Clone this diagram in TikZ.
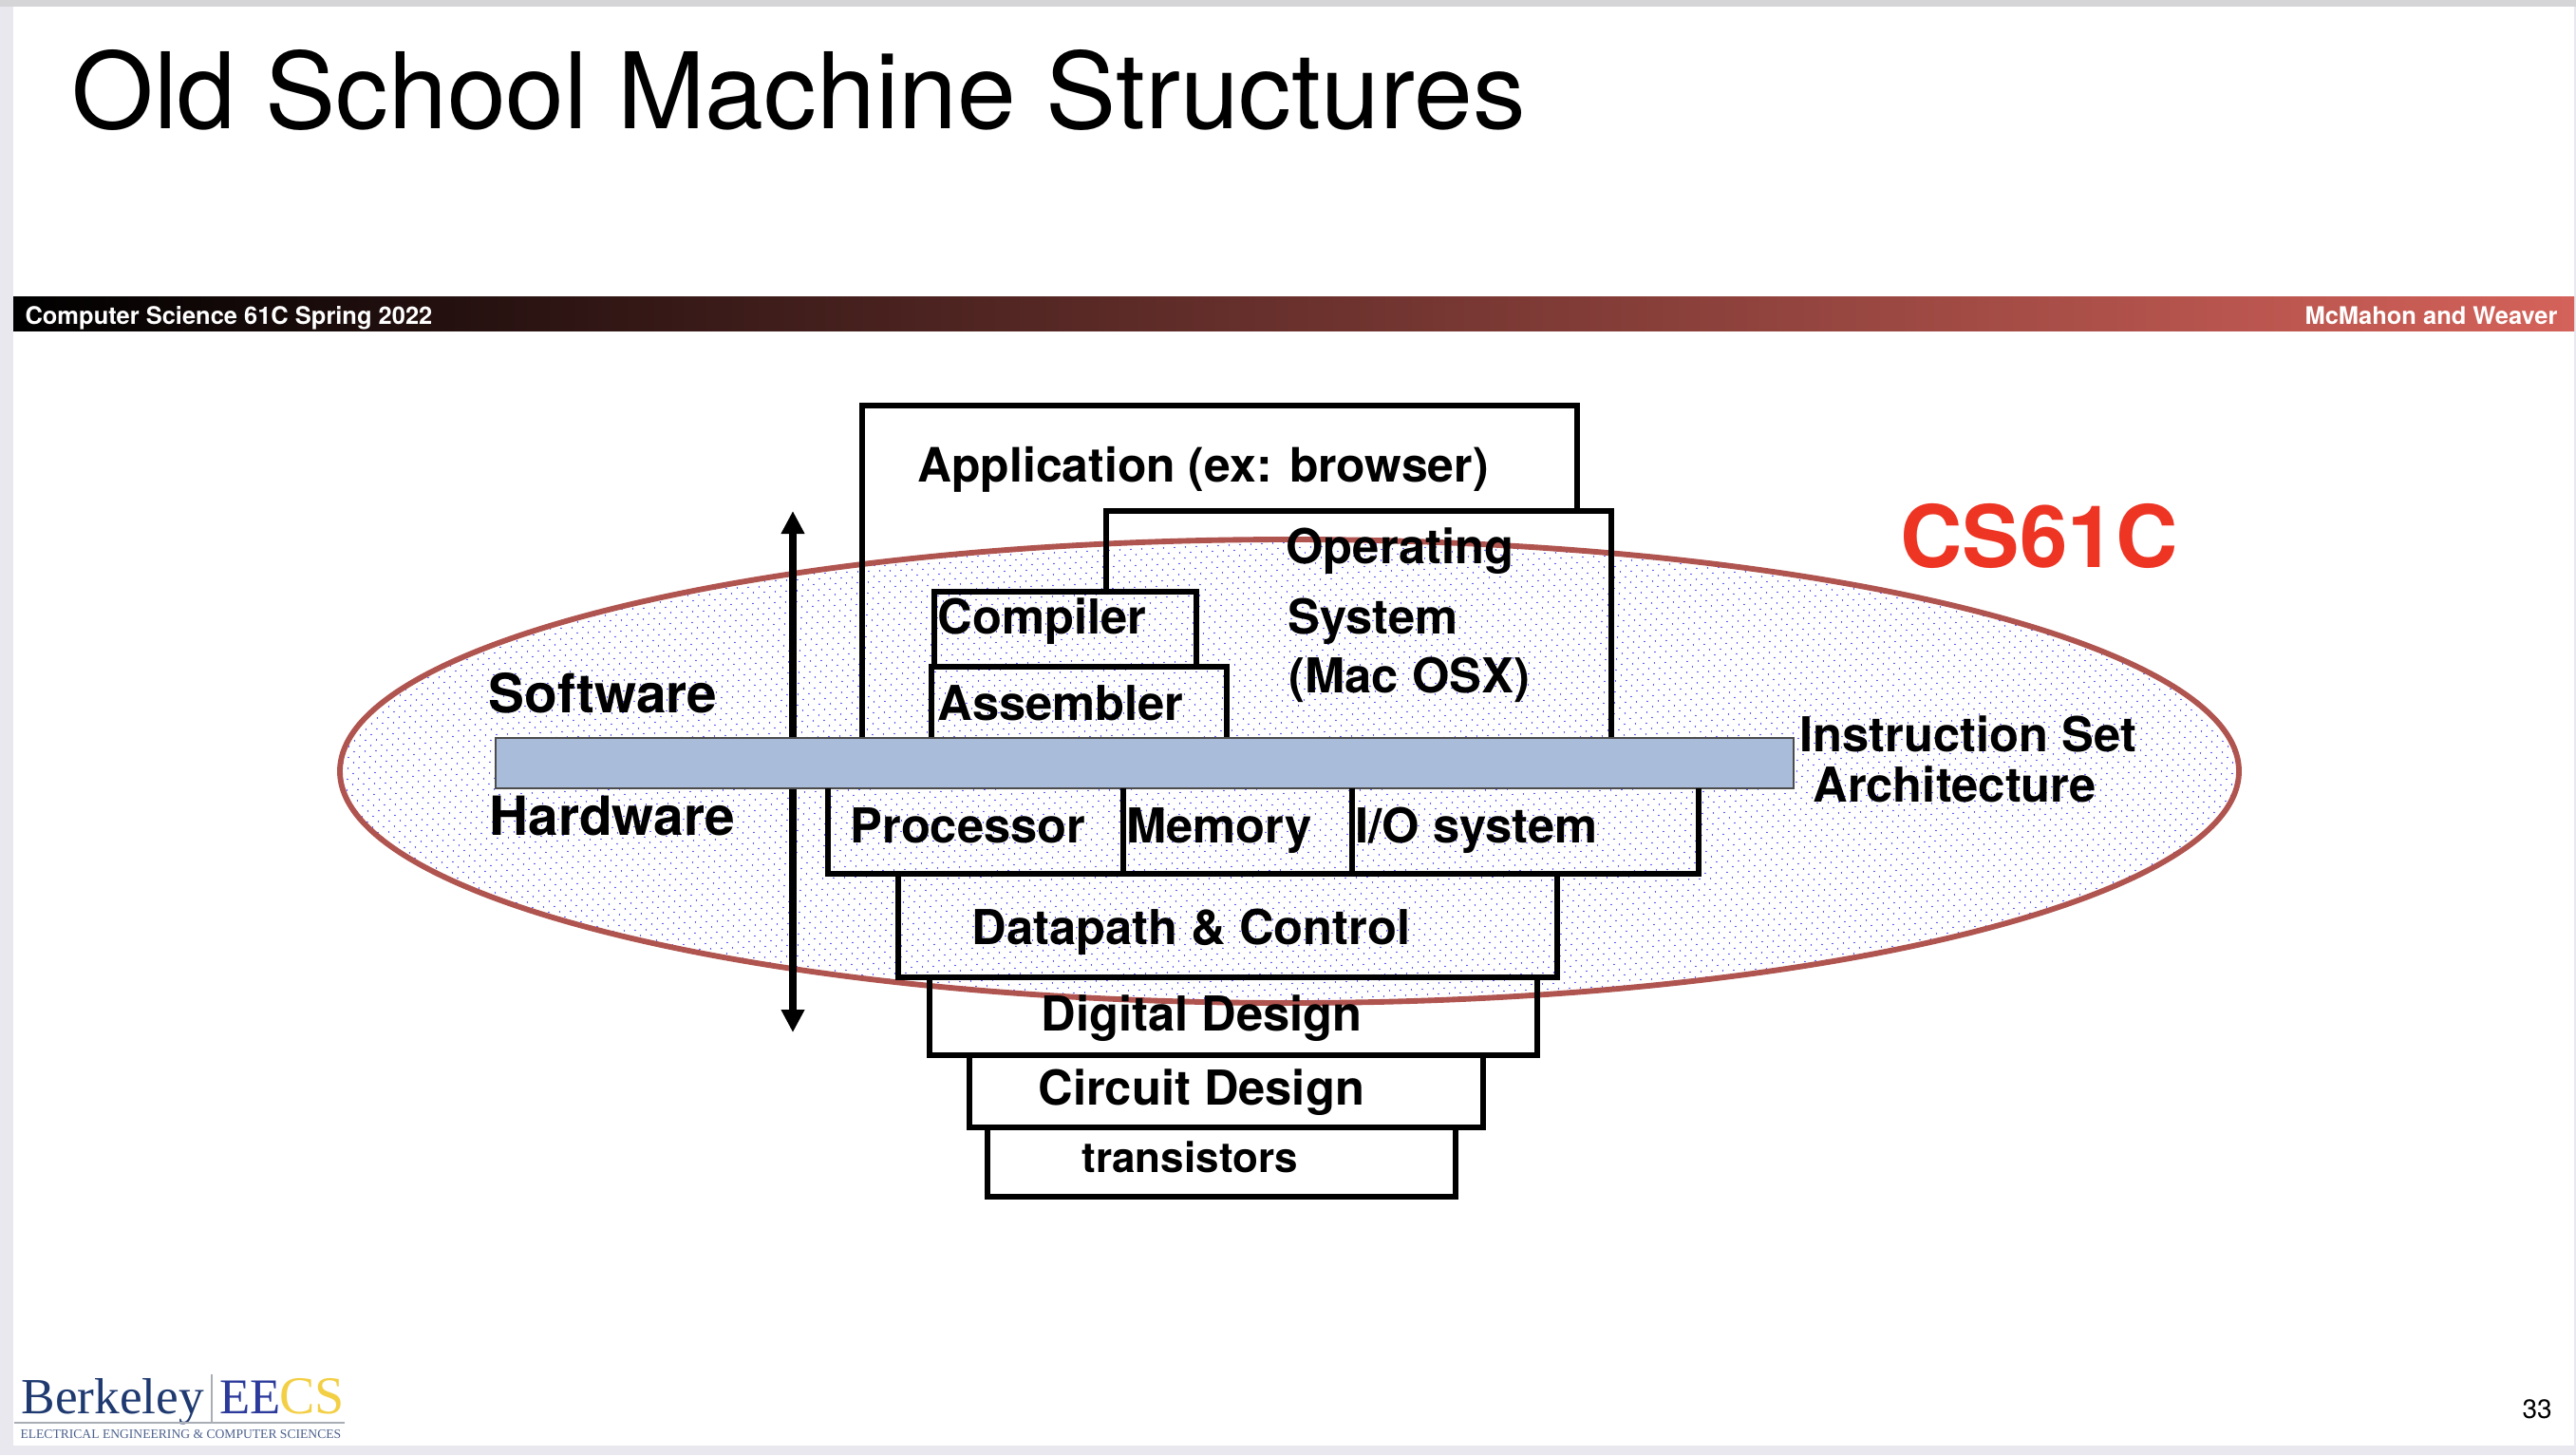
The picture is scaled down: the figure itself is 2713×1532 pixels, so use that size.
\documentclass[tikz,border=0pt]{standalone}
\usepackage{fontspec}
\setmainfont{TeX Gyre Heros}
\newfontfamily\logofont{Liberation Serif}
\usetikzlibrary{patterns.meta,arrows.meta}

\definecolor{ovalred}{HTML}{B0544F}
\definecolor{dotblue}{HTML}{4A4AF5}
\definecolor{bandblue}{HTML}{A9BCD9}
\definecolor{barred}{HTML}{D4625A}
\definecolor{tagred}{HTML}{EE3524}
\definecolor{edgegray}{HTML}{E8E8EE}
\definecolor{logonavy}{HTML}{1F3A70}
\definecolor{logoblue}{HTML}{2B3A9B}
\definecolor{logogold}{HTML}{F3CF45}
\definecolor{logogray}{HTML}{A9ADB5}

\tikzset{every picture/.style={line width=0.75pt},
  layerline/.style={line width=4.4pt,line cap=square},
  bandtext/.style={anchor=base west,inner sep=0.75pt,text=white,font=\fontsize{19.1}{23}\selectfont\bfseries},
  boxtext/.style={anchor=base west,inner sep=0.75pt,font=\fontsize{38}{46}\selectfont\bfseries},
  sidetext/.style={anchor=base west,inner sep=0.75pt,font=\fontsize{42.6}{50}\selectfont\bfseries},
  logotext/.style={anchor=base west,inner sep=0.75pt,font=\logofont\fontsize{40}{48}\selectfont}}

\begin{document}
\begin{tikzpicture}[x=0.75pt,y=0.75pt,yscale=-1,xscale=1]
\useasboundingbox (0,0) rectangle (2713,1532);

%Shape: Slide [id:page]
\fill[edgegray] (0,0) rectangle (2713,1532);
\fill[edgegray!80!black!60!white] (0,0) rectangle (2713,7);
\fill[white] (14,7) rectangle (2711,1522);

% Text Node
\draw (74,135) node [anchor=base west][inner sep=0.75pt,font=\fontsize{83.4}{100}\selectfont] (title) {Old School Machine Structures};

%Shape: Bar [id:bar]
\shade[left color=black,right color=barred] (14,312) rectangle (2711,348);
% Text Node
\draw (25,341) node [bandtext] (course) {Computer Science 61C Spring 2022};
% Text Node
\draw (2695,341) node [bandtext,anchor=base east] (staff) {McMahon and Weaver};

%Shape: Ellipse [id:oval]
\fill[pattern={Dots[distance=5.85pt,angle=45,radius=0.7pt]},pattern color=dotblue] (1358,812) ellipse (1000 and 244);
\draw[ovalred,line width=4.4pt] (1358,812) ellipse (1000 and 244);

%Shape: Arrow [id:updown]
\coordinate (upEnd) at (835,538);
\coordinate (downEnd) at (835,1087);
\draw[{Triangle[length=18pt,width=17.5pt]}-{Triangle[length=18pt,width=17.5pt]},line width=5.5pt] (upEnd) -- (downEnd);

%Shape: Layers above the band
\draw[layerline] (908,777) -- (908,427) -- (1661,427) -- (1661,538);
\draw[layerline] (1165,623) -- (1165,538) -- (1697,538) -- (1697,777);
\draw[layerline] (984,701) -- (984,623) -- (1260,623) -- (1260,701);
\draw[layerline] (981,777) -- (981,702) -- (1292,702) -- (1292,777);

%Shape: Band [id:isa]
\draw[fill=bandblue,draw=black!70,line width=1.2pt] (522,777) rectangle (1889,830);

%Shape: Layers below the band
\draw[layerline] (872,830) -- (872,920) -- (1789,920) -- (1789,830);
\draw[layerline] (1183,830) -- (1183,920);
\draw[layerline] (1424,830) -- (1424,920);
\draw[layerline] (946,920) rectangle (1640,1029);
\draw[layerline] (979,1029) rectangle (1619,1111);
\draw[layerline] (1021,1111) rectangle (1562,1187);
\draw[layerline] (1040,1187) rectangle (1533,1260);

% Text Node
\draw (965,507) node [boxtext,font=\fontsize{37.4}{46}\selectfont\bfseries] (application) {Application (ex: browser)};
% Text Node
\draw (1353,593) node [boxtext] (operating) {Operating};
% Text Node
\draw (1355,667) node [boxtext] (system) {System};
% Text Node
\draw (1356,729) node [boxtext] (macos) {(Mac OSX)};
% Text Node
\draw (986,667) node [boxtext] (compiler) {Compiler};
% Text Node
\draw (986,758) node [boxtext] (assembler) {Assembler};
% Text Node
\draw (513,750) node [sidetext] (software) {Software};
% Text Node
\draw (514,879) node [sidetext] (hardware) {Hardware};
% Text Node
\draw (894,887) node [boxtext] (processor) {Processor};
% Text Node
\draw (1185,887) node [boxtext] (memory) {Memory};
% Text Node
\draw (1426,887) node [boxtext] (iosystem) {I/O system};
% Text Node
\draw (1022,994) node [boxtext] (datapath) {Datapath \& Control};
% Text Node
\draw (1095,1085) node [boxtext] (digital) {Digital Design};
% Text Node
\draw (1092,1163) node [boxtext] (circuit) {Circuit Design};
% Text Node
\draw (1138,1234) node [boxtext,font=\fontsize{33}{40}\selectfont\bfseries] (transistors) {transistors};
% Text Node
\draw (1894,791) node [boxtext] (instruction) {Instruction Set};
% Text Node
\draw (1908,844) node [boxtext] (architecture) {Architecture};
% Text Node
\draw (2000,597) node [anchor=base west][inner sep=0.75pt,text=tagred,font=\fontsize{68}{82}\selectfont\bfseries] (tag) {CS61C};
% Text Node
\draw (2655,1493) node [anchor=base west][inner sep=0.75pt,font=\fontsize{21}{26}\selectfont] (pagenum) {33};

%Shape: Logo
\draw (21,1488) node [logotext,text=logonavy] (berkeley) {Berkeley};
\draw (230,1488) node [logotext,text=logoblue,font=\logofont\fontsize{39.5}{48}\selectfont] (ee) {EE};
\draw (293,1488) node [logotext,text=logogold,font=\logofont\fontsize{42}{50}\selectfont] (cs) {CS};
\draw[logogray,line width=0.9pt] (15,1498) -- (363,1498);
\draw[logogray,line width=0.9pt] (223,1447) -- (223,1498);
\draw (20,1514) node [logotext,text=logonavy!80,font=\logofont\fontsize{10.2}{12}\selectfont] (eecsname) {ELECTRICAL ENGINEERING \& COMPUTER SCIENCES};

\end{tikzpicture}
\end{document}
